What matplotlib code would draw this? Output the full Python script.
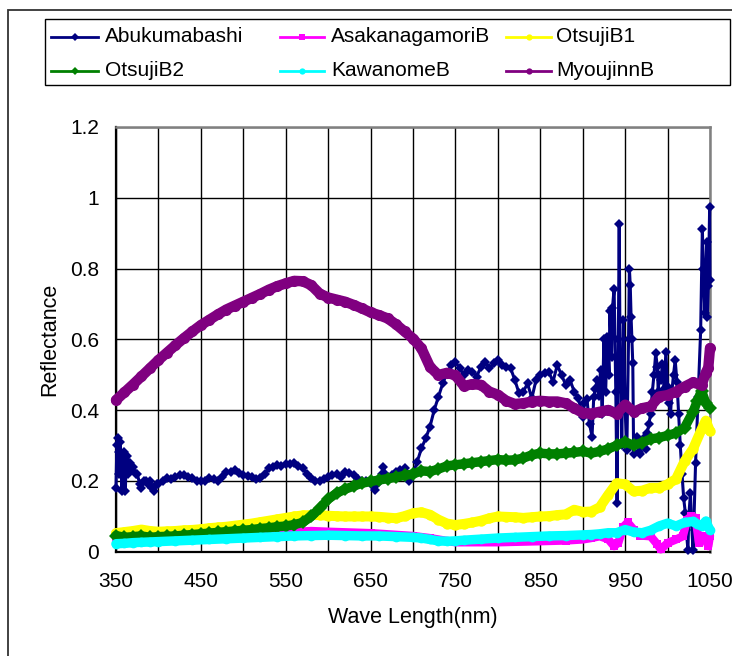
import matplotlib
matplotlib.use("Agg")
import matplotlib.pyplot as plt
from matplotlib.lines import Line2D
from matplotlib.patches import Rectangle
import numpy as np

plt.rcParams['font.family'] = ['Liberation Sans', 'DejaVu Sans']

# ---------------- data ----------------
series_names = ["Abukumabashi", "AsakanagamoriB", "OtsujiB1", "OtsujiB2", "KawanomeB", "MyoujinnB"]
series_colors = ["#000080", "#FF00FF", "#FFFF00", "#008000", "#00FFFF", "#800080"]

abuku_wl = [350, 351, 352, 353, 354, 355, 356, 357, 358, 359, 360, 361, 362, 363, 364, 366, 368, 370, 373, 375,
            378, 380, 383, 385, 388, 390, 393, 395, 398, 400, 405, 410, 415, 420, 425, 430, 435, 440, 445, 450,
            455, 460, 465, 470, 475, 480, 485, 490, 495, 500, 505, 510, 515, 520, 525, 530, 535, 540, 545, 550,
            555, 560, 565, 570, 575, 580, 585, 590, 595, 600, 605, 610, 615, 620, 625, 630, 635, 640, 645, 650,
            653, 655, 658, 660, 663, 665, 668, 670, 675, 680, 685, 690, 693, 695, 698, 700, 705, 710, 715, 720,
            725, 730, 735, 740, 745, 750, 755, 760, 765, 770, 775, 780, 785, 790, 795, 800, 805, 810, 815, 820,
            825, 830, 835, 840, 845, 850, 855, 860, 865, 870, 875, 880, 885, 890, 895, 898, 900, 902, 905, 908,
            911, 913, 915, 917, 919, 921, 923, 925, 927, 929, 931, 932, 934, 935, 937, 939, 940.5, 942, 943, 944,
            945, 946, 948, 950, 952, 954, 955, 956, 957, 958, 959, 960, 962, 964, 966, 968, 970, 972, 974, 976,
            978, 980, 982, 984, 986, 988, 989, 990, 992, 994, 996, 998, 1000, 1002, 1003.5, 1005, 1007, 1009, 1011, 1013,
            1015, 1017, 1019, 1021, 1022, 1024, 1025, 1027, 1028, 1030, 1031, 1033, 1036, 1039, 1041, 1042, 1044, 1045, 1046, 1047,
            1048, 1049.6, 1050]
abuku_val = [0.18, 0.30, 0.32, 0.28, 0.22, 0.31, 0.26, 0.17, 0.25, 0.28, 0.22, 0.17, 0.26, 0.27, 0.22, 0.25, 0.23, 0.24, 0.22, 0.22,
             0.19, 0.18, 0.20, 0.20, 0.19, 0.20, 0.18, 0.17, 0.19, 0.19, 0.20, 0.207, 0.205, 0.21, 0.215, 0.216, 0.21, 0.207, 0.20, 0.198,
             0.20, 0.207, 0.205, 0.20, 0.21, 0.226, 0.225, 0.23, 0.222, 0.216, 0.214, 0.21, 0.205, 0.207, 0.22, 0.235, 0.24, 0.245, 0.243, 0.247,
             0.246, 0.25, 0.243, 0.235, 0.22, 0.207, 0.20, 0.20, 0.205, 0.21, 0.215, 0.22, 0.21, 0.226, 0.222, 0.216, 0.205, 0.20, 0.198, 0.193,
             0.185, 0.174, 0.19, 0.20, 0.22, 0.24, 0.215, 0.207, 0.215, 0.226, 0.23, 0.235, 0.215, 0.20, 0.21, 0.22, 0.254, 0.292, 0.32, 0.353,
             0.40, 0.437, 0.475, 0.504, 0.527, 0.536, 0.518, 0.499, 0.513, 0.508, 0.494, 0.522, 0.536, 0.518, 0.532, 0.541, 0.527, 0.522, 0.518, 0.485,
             0.447, 0.452, 0.475, 0.433, 0.485, 0.499, 0.504, 0.508, 0.48, 0.527, 0.499, 0.471, 0.485, 0.452, 0.433, 0.40, 0.38, 0.42, 0.43, 0.36,
             0.325, 0.437, 0.46, 0.485, 0.44, 0.513, 0.39, 0.60, 0.45, 0.607, 0.50, 0.68, 0.55, 0.687, 0.743, 0.45, 0.136, 0.60, 0.927, 0.55,
             0.485, 0.30, 0.654, 0.40, 0.287, 0.60, 0.80, 0.753, 0.663, 0.60, 0.532, 0.277, 0.30, 0.325, 0.28, 0.277, 0.30, 0.32, 0.29, 0.334,
             0.36, 0.39, 0.45, 0.50, 0.56, 0.522, 0.45, 0.50, 0.485, 0.53, 0.46, 0.565, 0.466, 0.42, 0.39, 0.45, 0.50, 0.541, 0.48, 0.39,
             0.30, 0.22, 0.15, 0.108, 0.06, 0.005, 0.10, 0.165, 0.09, 0.005, 0.08, 0.25, 0.437, 0.626, 0.913, 0.80, 0.673, 0.80, 0.875, 0.663,
             0.75, 0.974, 0.767]

asaka_wl = [350, 400, 450, 500, 550, 580, 600, 650, 700, 720, 740, 750, 800, 850, 880, 900, 910, 920, 930, 937,
            942, 948, 953, 960, 968, 980, 988, 992, 1000, 1010, 1018, 1023, 1028, 1033, 1037, 1043, 1048, 1050]
asaka_val = [0.028, 0.034, 0.040, 0.046, 0.054, 0.058, 0.056, 0.052, 0.044, 0.038, 0.030, 0.026, 0.026, 0.029, 0.031, 0.034, 0.038, 0.043, 0.035, 0.015,
             0.025, 0.070, 0.082, 0.062, 0.045, 0.043, 0.020, 0.006, 0.024, 0.034, 0.043, 0.090, 0.100, 0.095, 0.024, 0.043, 0.015, 0.045]

otsu1_wl = [350, 360, 370, 380, 390, 400, 410, 420, 430, 440, 450, 460, 470, 480, 490, 500, 510, 520, 530, 540,
            550, 560, 570, 580, 590, 600, 610, 620, 630, 640, 650, 660, 670, 680, 690, 700, 710, 720, 730, 740,
            750, 760, 770, 780, 790, 800, 810, 820, 830, 840, 850, 860, 870, 880, 890, 900, 910, 920, 930, 940,
            950, 960, 970, 980, 990, 1000, 1010, 1020, 1030, 1040, 1045, 1050]
otsu1_val = [0.052, 0.055, 0.058, 0.062, 0.058, 0.056, 0.057, 0.058, 0.060, 0.061, 0.063, 0.066, 0.068, 0.070, 0.073, 0.076, 0.079, 0.083, 0.087, 0.091,
             0.095, 0.099, 0.102, 0.103, 0.103, 0.101, 0.100, 0.099, 0.099, 0.099, 0.099, 0.098, 0.096, 0.094, 0.100, 0.108, 0.111, 0.104, 0.090, 0.079,
             0.075, 0.078, 0.082, 0.087, 0.094, 0.099, 0.098, 0.097, 0.095, 0.097, 0.099, 0.100, 0.103, 0.105, 0.118, 0.112, 0.113, 0.125, 0.160, 0.193,
             0.190, 0.170, 0.172, 0.180, 0.180, 0.190, 0.205, 0.255, 0.290, 0.345, 0.370, 0.340]

otsu2_wl = [350, 360, 370, 380, 390, 400, 410, 420, 430, 440, 450, 460, 470, 480, 490, 500, 510, 520, 530, 540,
            550, 560, 570, 580, 590, 600, 610, 620, 630, 640, 650, 660, 670, 680, 690, 700, 710, 720, 730, 740,
            750, 760, 770, 780, 790, 800, 810, 820, 830, 840, 850, 860, 870, 880, 890, 900, 910, 920, 930, 940,
            950, 960, 970, 980, 990, 1000, 1010, 1020, 1030, 1035, 1040, 1045, 1050]
otsu2_val = [0.045, 0.040, 0.042, 0.044, 0.040, 0.042, 0.043, 0.044, 0.046, 0.048, 0.050, 0.052, 0.054, 0.056, 0.058, 0.060, 0.062, 0.065, 0.067, 0.070,
             0.072, 0.076, 0.082, 0.099, 0.122, 0.148, 0.165, 0.176, 0.185, 0.193, 0.198, 0.202, 0.206, 0.210, 0.215, 0.219, 0.228, 0.226, 0.233, 0.242,
             0.245, 0.248, 0.251, 0.254, 0.257, 0.260, 0.258, 0.259, 0.264, 0.273, 0.278, 0.276, 0.276, 0.278, 0.280, 0.283, 0.278, 0.283, 0.290, 0.300,
             0.310, 0.300, 0.308, 0.318, 0.322, 0.328, 0.335, 0.350, 0.395, 0.425, 0.455, 0.420, 0.405]

kawa_wl = [350, 360, 370, 380, 390, 400, 420, 440, 460, 480, 500, 520, 540, 560, 580, 600, 620, 640, 660, 680,
           700, 710, 720, 730, 740, 750, 760, 780, 800, 820, 840, 860, 880, 900, 910, 920, 930, 940, 950, 960,
           970, 980, 990, 1000, 1010, 1020, 1030, 1035, 1040, 1045, 1050]
kawa_val = [0.022, 0.023, 0.025, 0.026, 0.027, 0.028, 0.030, 0.032, 0.034, 0.036, 0.038, 0.040, 0.042, 0.044, 0.045, 0.046, 0.045, 0.044, 0.044, 0.042,
            0.040, 0.038, 0.034, 0.030, 0.029, 0.030, 0.032, 0.035, 0.038, 0.040, 0.042, 0.044, 0.045, 0.047, 0.048, 0.050, 0.053, 0.053, 0.062, 0.055,
            0.053, 0.060, 0.072, 0.080, 0.072, 0.082, 0.085, 0.078, 0.072, 0.086, 0.060]

myou_wl = [350, 360, 370, 380, 390, 400, 410, 420, 430, 440, 450, 460, 470, 480, 490, 500, 510, 520, 530, 540,
           550, 560, 570, 580, 590, 600, 610, 620, 630, 640, 650, 660, 670, 680, 690, 700, 710, 720, 730, 740,
           750, 760, 770, 780, 790, 800, 810, 820, 830, 840, 850, 860, 870, 880, 890, 900, 910, 920, 930, 940,
           950, 960, 970, 980, 990, 1000, 1010, 1020, 1030, 1040, 1045, 1048, 1050]
myou_val = [0.428, 0.450, 0.472, 0.495, 0.518, 0.541, 0.562, 0.583, 0.603, 0.622, 0.640, 0.655, 0.670, 0.684, 0.695, 0.706, 0.717, 0.728, 0.740, 0.750,
            0.758, 0.765, 0.764, 0.753, 0.729, 0.718, 0.712, 0.706, 0.697, 0.687, 0.676, 0.668, 0.659, 0.642, 0.622, 0.602, 0.574, 0.522, 0.499, 0.505,
            0.498, 0.468, 0.473, 0.471, 0.452, 0.443, 0.426, 0.417, 0.419, 0.424, 0.426, 0.424, 0.424, 0.419, 0.405, 0.392, 0.390, 0.395, 0.400, 0.390,
            0.415, 0.395, 0.405, 0.410, 0.438, 0.442, 0.452, 0.466, 0.478, 0.470, 0.505, 0.520, 0.575]

x_ticks = [350, 450, 550, 650, 750, 850, 950, 1050]
y_ticks = [0, 0.2, 0.4, 0.6, 0.8, 1.0, 1.2]
y_tick_labels = ["0", "0.2", "0.4", "0.6", "0.8", "1", "1.2"]
x_label = "Wave Length(nm)"
y_label = "Reflectance"

# ---------------- figure ----------------
W, H = 732, 656
fig = plt.figure(figsize=(W / 100, H / 100), dpi=100)
fig.patch.set_facecolor("white")

# outer chart border
fig.add_artist(Rectangle((8 / W, -0.2), 1.5, 1 - 10 / H + 0.2, transform=fig.transFigure,
                         fill=False, edgecolor="#333333", linewidth=1.3))

ax_l, ax_r, ax_t, ax_b = 116, 710, 127, 551.5
ax = fig.add_axes([ax_l / W, 1 - ax_b / H, (ax_r - ax_l) / W, (ax_b - ax_t) / H])

data = [(abuku_wl, abuku_val), (asaka_wl, asaka_val), (otsu1_wl, otsu1_val),
        (otsu2_wl, otsu2_val), (kawa_wl, kawa_val), (myou_wl, myou_val)]

styles = [
    dict(lw=2.2, marker="D", ms=5.5, mew=0),
    dict(lw=6.0, marker="s", ms=6.0, mew=0),
    dict(lw=7.2, marker="o", ms=7.5, mew=0),
    dict(lw=6.8, marker="D", ms=7.0, mew=0),
    dict(lw=6.8, marker="o", ms=7.0, mew=0),
    dict(lw=7.5, marker="o", ms=8.0, mew=0),
]

for (wl, val), name, col, st in zip(data, series_names, series_colors, styles):
    ax.plot(wl, val, color=col, solid_capstyle="round", solid_joinstyle="round",
            clip_on=False, zorder=3, label=name, **st)

ax.set_xlim(350, 1050)
ax.set_ylim(0, 1.2)
ax.set_xticks(x_ticks)
ax.set_xticks(np.arange(350, 1051, 50), minor=True)
ax.set_yticks(y_ticks)
ax.set_yticklabels(y_tick_labels)
ax.grid(True, which="both", color="black", linewidth=1.0, zorder=1)
ax.set_axisbelow(True)
ax.tick_params(axis="both", which="both", length=0, labelsize=15, colors="black")
ax.tick_params(axis="x", pad=15)
ax.tick_params(axis="y", pad=12)

for s in ["left", "bottom"]:
    ax.spines[s].set_color("black")
    ax.spines[s].set_linewidth(1.6)
for s in ["top", "right"]:
    ax.spines[s].set_color("#808080")
    ax.spines[s].set_linewidth(1.8)

ax.set_xlabel(x_label, fontsize=15.5)
ax.set_ylabel(y_label, fontsize=15.5)
ax.xaxis.set_label_coords(0.5, (ax_b - 617) / (ax_b - ax_t))
ax.xaxis.label.set_va("center")
ax.yaxis.set_label_coords((50 - ax_l) / (ax_r - ax_l), 0.5)
ax.yaxis.label.set_va("center")

# ---------------- legend (manual layout) ----------------
fig.add_artist(Rectangle((45 / W, 1 - 85 / H), (730 - 45) / W, (85 - 19) / H,
                         transform=fig.transFigure, fill=False, edgecolor="black", linewidth=1.0))
col_x = [(51, 98, 105), (280, 324, 331), (506, 551, 556)]
row_y = [37, 71]
leg_markers = ["D", "s", "o", "D", "o", "o"]
leg_ms = [4, 5, 4.5, 4, 4.5, 4.5]
for i, (name, col) in enumerate(zip(series_names, series_colors)):
    r, c = divmod(i, 3)
    x0, x1, xt = col_x[c]
    y = 1 - row_y[r] / H
    fig.add_artist(Line2D([x0 / W, x1 / W], [y, y], transform=fig.transFigure, color=col, lw=2.0))
    fig.add_artist(Line2D([(x0 + x1) / 2 / W], [y], transform=fig.transFigure, color=col,
                          marker=leg_markers[i], ms=leg_ms[i], mew=0, lw=0))
    fig.text(xt / W, y, name, fontsize=15, va="center", ha="left", color="black")

fig.savefig("out.png", dpi=100)
